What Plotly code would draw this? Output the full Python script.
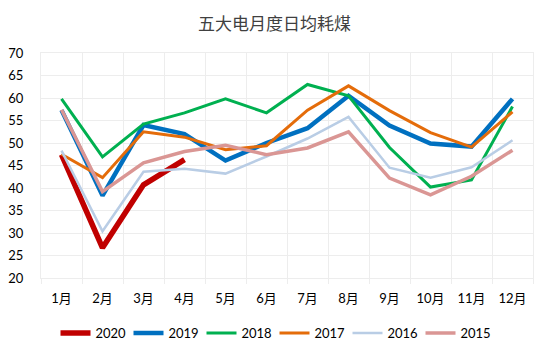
import plotly.graph_objects as go

months = ["1月", "2月", "3月", "4月", "5月", "6月", "7月", "8月", "9月", "10月", "11月", "12月"]

y2020 = [47.4, 26.7, 40.7, 46.3]
y2019 = [57.3, 38.3, 54.0, 52.0, 46.1, 50.0, 53.3, 60.5, 53.9, 49.9, 49.2, 59.8]
y2018 = [59.8, 46.9, 54.2, 56.7, 59.8, 56.7, 63.0, 60.5, 49.0, 40.2, 41.8, 58.1]
y2017 = [47.5, 42.3, 52.5, 51.3, 48.5, 49.4, 57.3, 62.7, 57.2, 52.3, 49.1, 56.9]
y2016 = [48.3, 30.4, 43.6, 44.3, 43.2, 47.0, 51.0, 55.8, 44.5, 42.3, 44.6, 50.6]
y2015 = [57.4, 39.2, 45.6, 48.1, 49.5, 47.4, 48.9, 52.5, 42.2, 38.5, 42.6, 48.4]

series = [
    ("2020", y2020, "#C00000", 5.5),
    ("2019", y2019, "#0070C0", 4.5),
    ("2018", y2018, "#00B050", 3),
    ("2017", y2017, "#E46C0A", 3),
    ("2016", y2016, "#B9CDE5", 2.5),
    ("2015", y2015, "#DA9694", 3.5),
]

font_family = "Lato, 'Noto Sans CJK SC', sans-serif"
grid = "#EDEDED"

fig = go.Figure()
for name, vals, color, w in series:
    fig.add_trace(go.Scatter(
        x=months[:len(vals)], y=vals, name=name, mode="lines",
        line=dict(color=color, width=w),
    ))

fig.update_layout(
    width=549, height=352,
    margin=dict(l=41, r=16, t=53, b=74, autoexpand=False),
    paper_bgcolor="white", plot_bgcolor="white",
    title=dict(text="五大电月度日均耗煤", x=0.5, xanchor="center", y=1 - 24 / 352, yanchor="middle",
               font=dict(family="'Noto Sans CJK SC'", size=17, color="#404040")),
    font=dict(family=font_family, size=13, color="#000000"),
    showlegend=True,
    legend=dict(orientation="h", xref="container", yref="container",
                x=0.5, xanchor="center", y=1 - 333 / 352, yanchor="middle",
                font=dict(size=13, family=font_family), itemwidth=30, entrywidth=28,
                traceorder="normal"),
    xaxis=dict(type="category", categoryorder="array", categoryarray=months,
               range=[-0.5, 11.5], tickson="boundaries", showgrid=True, gridcolor=grid, gridwidth=1,
               ticks="outside", ticklen=5, tickcolor=grid, showline=True, linecolor=grid,
               mirror=True, ticklabelstandoff=8, fixedrange=True, automargin=False),
    yaxis=dict(range=[20, 70], dtick=5, tick0=20, showgrid=True, gridcolor=grid, gridwidth=1,
               showline=True, linecolor=grid, mirror=True, zeroline=False,
               ticks="", ticklabelstandoff=14, fixedrange=True, automargin=False),
)

fig.write_html("out.html")
